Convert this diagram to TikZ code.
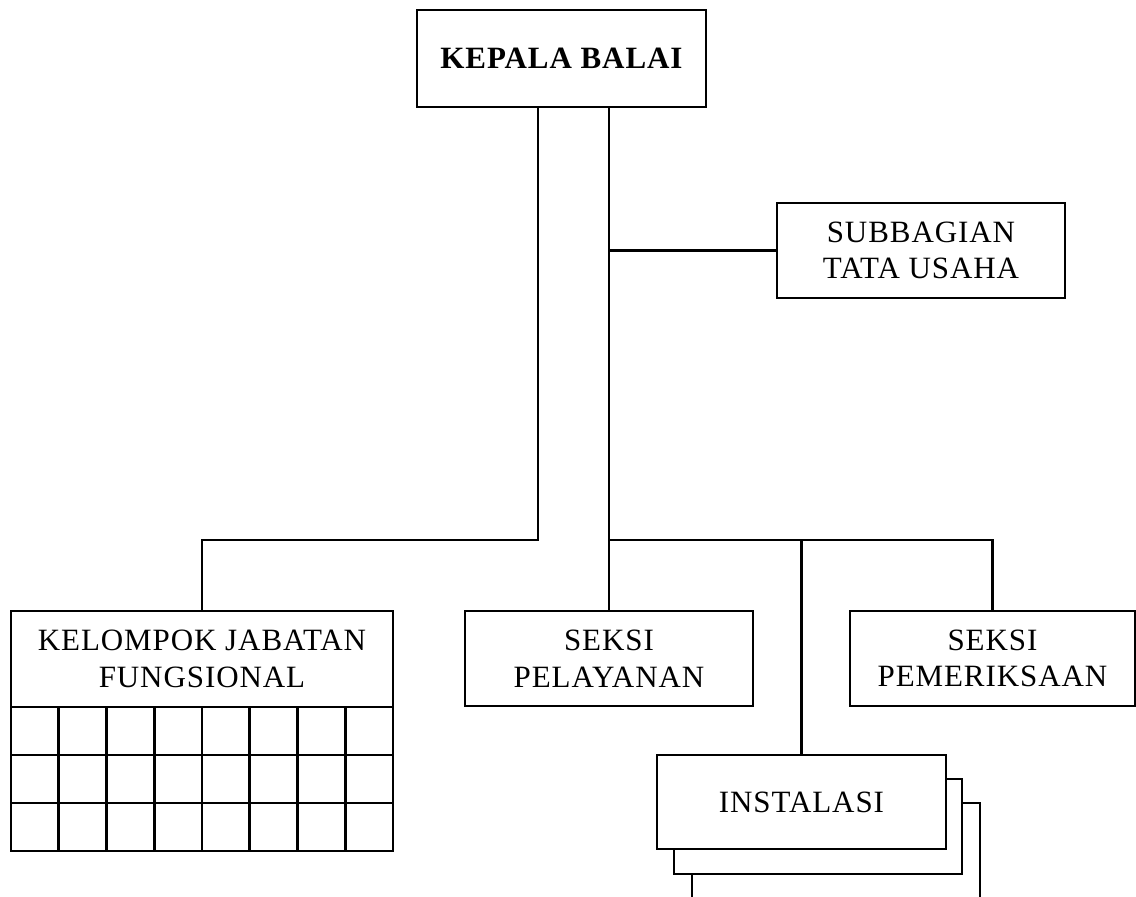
\documentclass[tikz,border=0pt]{standalone}
\usepackage{fontspec}
\setmainfont[LetterSpace=3]{Liberation Serif}
\usetikzlibrary{positioning}

\begin{document}
\begin{tikzpicture}[
  x=1pt,y=-1pt,
  line width=2.8pt,
  unit/.style={draw,fill=white,inner sep=0pt,outer sep=0pt,minimum width=288pt,minimum height=95pt,align=center,font=\fontsize{31}{36.7}\selectfont},
  head/.style={unit,font=\fontsize{31}{36.7}\selectfont\bfseries}
]
\useasboundingbox (0,0) rectangle (1136,897);

% Pimpinan dan tata usaha
\node[head,minimum width=289pt,minimum height=97pt] (kepala) at (561.5,58.5) {KEPALA BALAI};
\node[unit] (tu) at (921,250.5) {SUBBAGIAN\\TATA USAHA};

% Seksi
\node[unit] (pelayanan) at (609,658.5) {SEKSI\\PELAYANAN};
\node[unit,minimum width=285pt] (pemeriksaan) at (992.5,658.5) {SEKSI\\PEMERIKSAAN};

% Kelompok jabatan fungsional
\node[unit,minimum width=382pt,minimum height=96pt] (kjf) at (202,659) {KELOMPOK JABATAN\\FUNGSIONAL};
\draw (kjf.south west) rectangle (393,851);
\foreach \c in {1,...,7}
  \draw (11+\c*47.75,707) -- (11+\c*47.75,851);
\foreach \r in {1,2}
  \draw (11,707+\r*48) -- (393,707+\r*48);

% Instalasi (bertumpuk)
\node[unit,minimum height=130pt] (inst3) at (836,868) {};
\node[unit] (inst2) at (818,826.5) {};
\node[unit,minimum width=289pt,minimum height=94pt] (instalasi) at (801.5,802) {INSTALASI};

% Garis
\coordinate (kiri) at (538,540);
\coordinate (kanan) at (609,540);
\draw (kiri |- kepala.south) -- (kiri) -| (kjf.north);
\draw (kanan |- kepala.south) -- (kanan) -| (pemeriksaan.north);
\draw (kanan) -- (pelayanan.north);
\draw (tu.west) -- (tu.west -| kanan);
\draw (instalasi.north |- kanan) -- (instalasi.north);
\end{tikzpicture}
\end{document}
